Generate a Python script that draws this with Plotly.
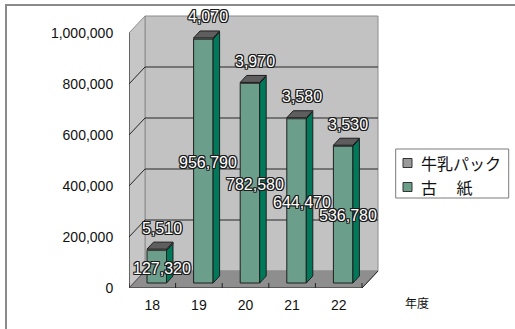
import plotly.graph_objects as go

# ---------------- data ----------------
years = ["18", "19", "20", "21", "22"]
kami = [127320, 956790, 782580, 644470, 536780]      # 古紙
milk = [5510, 4070, 3970, 3580, 3530]                # 牛乳パック
series_names = ["牛乳パック", "古\u3000 紙"]
y_ticks = [0, 200000, 400000, 600000, 800000, 1000000]
x_title = "年度"

# ---------------- geometry (pixels -> data units) ----------------
W, H = 515, 329
L, R_, T, B = 129, 380, 14, 288
PXX = (362 - 129) / 5.0
PXY = 255 / 1e6
def ux(p): return p / PXX
def uy(p): return p / PXY
def paper_x(px): return (px - L) / (R_ - L)
def paper_y(py): return (B - py) / (B - T)

n = len(years)
xr = [-0.5, -0.5 + ux(R_ - L)]
yr = [0, uy(B - T)]
dxw, dyw = ux(16), uy(17)          # wall depth
bw = ux(19.5)                       # bar front width
boff = -ux(5.3)                     # bar left edge offset from category centre
yoff = uy(5)                        # bar raised from front plane
dxb, dyb = ux(6.5), uy(7)           # bar depth

FONT = "Liberation Sans, Arial, Noto Sans CJK JP"
JFONT = "Noto Sans CJK JP, Liberation Sans"
C_KAMI, C_KAMI_SIDE = "#6b9f8b", "#00785a"
C_MILK, C_MILK_SIDE, C_MILK_TOP = "#9a9a9a", "#7a7a7a", "#5e5e5e"
EDGE = "#1e1e1e"

shapes = []
# outer frame
shapes.append(dict(type="rect", xref="paper", yref="paper",
                   x0=paper_x(6), x1=paper_x(700), y0=paper_y(5), y1=paper_y(500),
                   line=dict(color="#8a8a8a", width=2), fillcolor="rgba(0,0,0,0)"))
x0, x1, ymax = -0.5, n - 0.5, max(y_ticks)
def path(pts):
    return "M " + " L ".join(f"{a},{b}" for a, b in pts) + " Z"
# back wall
shapes.append(dict(type="path", xref="x", yref="y", layer="below",
                   path=path([(x0 + dxw, dyw), (x1 + dxw, dyw), (x1 + dxw, ymax + dyw), (x0 + dxw, ymax + dyw)]),
                   fillcolor="#c2c2c2", line=dict(color="#8c8c8c", width=1)))
# left wall
shapes.append(dict(type="path", xref="x", yref="y", layer="below",
                   path=path([(x0, 0), (x0, ymax), (x0 + dxw, ymax + dyw), (x0 + dxw, dyw)]),
                   fillcolor="#c6c6c6", line=dict(color="#8c8c8c", width=1)))
# floor
shapes.append(dict(type="path", xref="x", yref="y", layer="below",
                   path=path([(x0, 0), (x1, 0), (x1 + dxw, dyw), (x0 + dxw, dyw)]),
                   fillcolor="#8e8e8e", line=dict(color="#8c8c8c", width=1)))
# gridlines
for v in y_ticks[1:-1]:
    shapes.append(dict(type="line", xref="x", yref="y", layer="below",
                       x0=x0 + dxw, x1=x1 + dxw, y0=v + dyw, y1=v + dyw,
                       line=dict(color="#262626", width=1)))
    shapes.append(dict(type="line", xref="x", yref="y", layer="below",
                       x0=x0, x1=x0 + dxw, y0=v, y1=v + dyw,
                       line=dict(color="#262626", width=1)))
# axis lines (front edges)
shapes.append(dict(type="line", xref="x", yref="y", layer="below",
                   x0=x0, x1=x0, y0=0, y1=ymax, line=dict(color="#222", width=1)))
shapes.append(dict(type="line", xref="x", yref="y", layer="below",
                   x0=x0, x1=x1, y0=0, y1=0, line=dict(color="#222", width=1)))
shapes.append(dict(type="line", xref="x", yref="y", layer="below",
                   x0=x1, x1=x1 + dxw, y0=0, y1=dyw, line=dict(color="#222", width=1)))
shapes.append(dict(type="line", xref="x", yref="y", layer="below",
                   x0=x0, x1=x0 + dxw, y0=0, y1=dyw, line=dict(color="#555", width=1)))
for k in range(n + 1):
    shapes.append(dict(type="line", xref="x", yref="y", layer="below",
                       x0=k - 0.5, x1=k - 0.5, y0=0, y1=uy(5), line=dict(color="#222", width=1)))

fig = go.Figure()
xs = list(range(n))
base_k = [yoff] * n
base_m = [yoff + k for k in kami]

fig.add_trace(go.Bar(x=xs, y=kami, base=base_k, width=bw, offset=boff,
                     marker=dict(color=C_KAMI, line=dict(color=EDGE, width=1)),
                     showlegend=False, hoverinfo="skip"))

def side_poly(bases, tops):
    px, py = [], []
    for i in range(n):
        r = i + boff + bw
        b, t = bases[i], tops[i]
        px += [r, r + dxb, r + dxb, r, r, None]
        py += [b, b + dyb, t + dyb, t, b, None]
    return px, py

def top_poly(tops):
    px, py = [], []
    for i in range(n):
        l = i + boff
        r = l + bw
        t = tops[i]
        px += [l, l + dxb, r + dxb, r, l, None]
        py += [t, t + dyb, t + dyb, t, t, None]
    return px, py

tops_k = [base_k[i] + kami[i] for i in range(n)]
sx, sy = side_poly(base_k, tops_k)
fig.add_trace(go.Scatter(x=sx, y=sy, fill="toself", fillcolor=C_KAMI_SIDE, mode="lines",
                         line=dict(color=EDGE, width=1), showlegend=False, hoverinfo="skip"))

fig.add_trace(go.Bar(x=xs, y=milk, base=base_m, width=bw, offset=boff,
                     marker=dict(color=C_MILK, line=dict(color=EDGE, width=0.5)),
                     showlegend=False, hoverinfo="skip"))
tops_m = [base_m[i] + milk[i] for i in range(n)]
sx, sy = side_poly(base_m, tops_m)
fig.add_trace(go.Scatter(x=sx, y=sy, fill="toself", fillcolor=C_MILK_SIDE, mode="lines",
                         line=dict(color=EDGE, width=1), showlegend=False, hoverinfo="skip"))
tx, ty = top_poly(tops_m)
fig.add_trace(go.Scatter(x=tx, y=ty, fill="toself", fillcolor=C_MILK_TOP, mode="lines",
                         line=dict(color=EDGE, width=1), showlegend=False, hoverinfo="skip"))

# data labels
outline = ("-1px -1px 0 #1a1a1a, 1px -1px 0 #1a1a1a, -1px 1px 0 #1a1a1a, 1px 1px 0 #1a1a1a, "
           "0 1px 0 #1a1a1a, 0 -1px 0 #1a1a1a, 1px 0 0 #1a1a1a, -1px 0 0 #1a1a1a")
lab_font = dict(family=FONT, size=16, color="white", shadow=outline)
annotations = []
for i in range(n):
    annotations.append(dict(x=i, y=kami[i] / 2, xref="x", yref="y", text=f"{kami[i]:,}",
                            showarrow=False, xanchor="center", yanchor="middle",
                            xshift=9.5, yshift=3.7, font=lab_font))
    annotations.append(dict(x=i, y=kami[i] + milk[i], xref="x", yref="y", text=f"{milk[i]:,}",
                            showarrow=False, xanchor="center", yanchor="middle",
                            xshift=9.5, yshift=26, font=lab_font))

# x title
annotations.append(dict(x=paper_x(416.7), y=paper_y(302.5), xref="paper", yref="paper",
                        text=x_title, showarrow=False, xanchor="center", yanchor="middle",
                        font=dict(family=JFONT, size=12, color="#111")))

# custom legend
shapes.append(dict(type="rect", xref="paper", yref="paper",
                   x0=paper_x(395.7), x1=paper_x(508.7), y0=paper_y(149), y1=paper_y(198),
                   line=dict(color="#7a7a7a", width=1), fillcolor="white"))
leg_cols = [C_MILK, C_KAMI]
leg_y = [163, 187]
for name, col, yy in zip(series_names, leg_cols, leg_y):
    shapes.append(dict(type="rect", xref="paper", yref="paper",
                       x0=paper_x(403), x1=paper_x(412), y0=paper_y(yy - 4.5), y1=paper_y(yy + 4.5),
                       line=dict(color="#333", width=1), fillcolor=col))
    annotations.append(dict(x=paper_x(419), y=paper_y(yy), xref="paper", yref="paper",
                            text=name, showarrow=False, xanchor="left", yanchor="middle",
                            font=dict(family=JFONT, size=16, color="#111")))

fig.update_layout(
    width=W, height=H,
    margin=dict(l=L, r=W - R_, t=T, b=H - B, pad=0),
    paper_bgcolor="white", plot_bgcolor="rgba(0,0,0,0)",
    barmode="overlay", showlegend=False,
    shapes=shapes, annotations=annotations,
    font=dict(family=FONT, size=14, color="#111"),
    xaxis=dict(range=xr, tickmode="array", tickvals=xs, ticktext=years,
               showgrid=False, zeroline=False, showline=False,
               ticks="outside", ticklen=4, tickcolor="rgba(0,0,0,0)",
               tickfont=dict(size=14), fixedrange=True),
    yaxis=dict(range=yr, tickmode="array", tickvals=y_ticks, tickformat=",",
               showgrid=False, zeroline=False, showline=False,
               ticks="outside", ticklen=12, tickcolor="rgba(0,0,0,0)",
               tickfont=dict(size=14), fixedrange=True),
)

fig.write_html("out.html")
